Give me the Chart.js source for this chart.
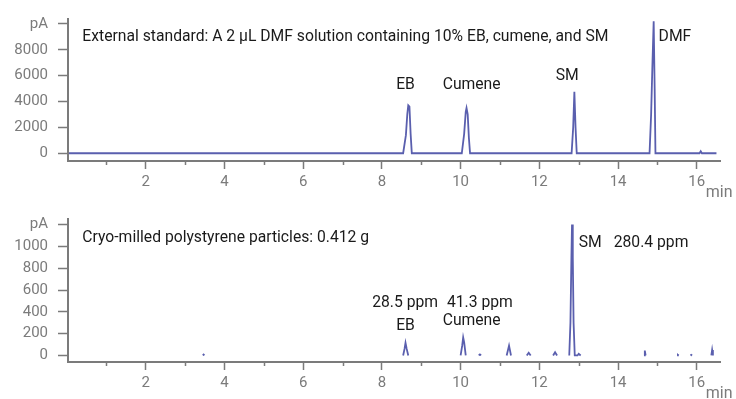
<!DOCTYPE html>
<html>
<head>
<meta charset="utf-8">
<script src="https://cdn.jsdelivr.net/npm/chart.js@4.4.1/dist/chart.umd.min.js"></script>
<style>
  html, body { margin: 0; padding: 0; background: #fff; }
  .panel { position: relative; width: 736px; }
  canvas { display: block; }
</style>
</head>
<body>
<div class="panel" style="height:200px"><canvas id="stdChart"></canvas></div>
<div class="panel" style="height:199px"><canvas id="sampleChart"></canvas></div>
<script>
// retention time (min) and FID signal (pA) for the external standard run
const stdTime = [0.05, 8.54, 8.61, 8.645, 8.67, 8.70, 8.73, 8.76,
  10.03, 10.09, 10.13, 10.15, 10.18, 10.21, 10.24,
  12.82, 12.86, 12.89, 12.92, 12.95,
  14.80, 14.84, 14.87, 14.905, 14.93, 14.95,
  16.07, 16.10, 16.13, 16.50];
const stdSignal = [0, 0, 1400, 3000, 3700, 3600, 1500, 0,
  0, 1500, 3200, 3500, 3000, 1200, 0,
  0, 2000, 4750, 2000, 0,
  0, 3000, 6500, 10200, 5000, 0,
  0, 150, 0, 0];

// polystyrene sample run, only the peaks rise above the baseline
const sampleTime = [3.45, 3.47, 3.49, 3.5,
  8.54, 8.575, 8.60, 8.63, 8.67, 8.7,
  10.00, 10.04, 10.065, 10.09, 10.13, 10.2,
  10.46, 10.49, 10.52, 10.6,
  11.17, 11.23, 11.28, 11.3,
  11.68, 11.73, 11.78, 11.8,
  12.35, 12.40, 12.45, 12.5,
  12.76, 12.79, 12.815, 12.83, 12.85, 12.87, 12.90,
  12.97, 13.00, 13.05, 13.1,
  14.66, 14.68, 14.70, 14.8,
  15.50, 15.52, 15.54, 15.6,
  15.84, 15.86, 15.88, 15.9,
  16.37, 16.39, 16.41];
const sampleSignal = [0, 8, 0, null,
  0, 60, 115, 60, 0, null,
  0, 90, 165, 120, 0, null,
  0, 10, 0, null,
  0, 90, 0, null,
  0, 25, 0, null,
  0, 30, 0, null,
  0, 300, 900, 1200, 900, 300, 0,
  0, 15, 0, null,
  0, 45, 0, null,
  0, 6, 0, null,
  0, 6, 0, null,
  0, 50, 0];

const xTicks = [2, 4, 6, 8, 10, 12, 14, 16];
const xMinorTicks = [1, 3, 5, 7, 9, 11, 13, 15];
const stdYTicks = [0, 2000, 4000, 6000, 8000, 10000];
const sampleYTicks = [0, 200, 400, 600, 800, 1000, 1200];

// text placed at [time, pA]
const stdLabels = [
  { text: 'External standard: A 2 µL DMF solution containing 10% EB, cumene, and SM', x: 0.39, y: 9020, align: 'left' },
  { text: 'EB', x: 8.60, y: 5260, align: 'center' },
  { text: 'Cumene', x: 10.28, y: 5260, align: 'center' },
  { text: 'SM', x: 12.71, y: 5940, align: 'center' },
  { text: 'DMF', x: 15.03, y: 9020, align: 'left' }
];
const sampleLabels = [
  { text: 'Cryo-milled polystyrene particles: 0.412 g', x: 0.39, y: 1072, align: 'left' },
  { text: 'SM', x: 13.0, y: 1034, align: 'left' },
  { text: '280.4 ppm', x: 13.89, y: 1034, align: 'left' },
  { text: '28.5 ppm', x: 8.59, y: 476, align: 'center' },
  { text: '41.3 ppm', x: 10.49, y: 476, align: 'center' },
  { text: 'EB', x: 8.60, y: 268, align: 'center' },
  { text: 'Cumene', x: 10.28, y: 319, align: 'center' }
];

const FONT = 'Roboto, "Noto Sans", sans-serif';
const AXIS = '#7b7b7b';
const TRACE = '#5a5fae';

function extras(labels) {
  return {
    id: 'extras',
    afterDraw(chart) {
      const { ctx, chartArea } = chart;
      const xs = chart.scales.x, ys = chart.scales.y;
      ctx.save();
      // short ticks on odd minutes
      ctx.strokeStyle = AXIS;
      ctx.lineWidth = 1.5;
      xMinorTicks.forEach(v => {
        const px = Math.round(xs.getPixelForValue(v)) + 0.5;
        ctx.beginPath();
        ctx.moveTo(px, chartArea.bottom);
        ctx.lineTo(px, chartArea.bottom + 4);
        ctx.stroke();
      });
      // unit next to the last tick label
      ctx.fillStyle = AXIS;
      ctx.font = '16px ' + FONT;
      ctx.textAlign = 'left';
      ctx.textBaseline = 'middle';
      ctx.fillText('min', xs.getPixelForValue(16) + 9, chartArea.bottom + 32);
      // peak names and header
      ctx.fillStyle = '#1a1a1a';
      ctx.font = '15.7px ' + FONT;
      labels.forEach(l => {
        ctx.textAlign = l.align;
        ctx.fillText(l.text, xs.getPixelForValue(l.x), ys.getPixelForValue(l.y));
      });
      ctx.restore();
    }
  };
}

function makeChart(id, time, signal, yMin, yMax, yTicks, labels, xHeight) {
  return new Chart(document.getElementById(id), {
    type: 'line',
    data: {
      datasets: [{
        data: time.map((t, i) => ({ x: t, y: signal[i] })),
        borderColor: TRACE,
        borderWidth: 1.8,
        pointRadius: 0,
        tension: 0,
        spanGaps: false
      }]
    },
    options: {
      animation: false,
      responsive: true,
      maintainAspectRatio: false,
      layout: { padding: { top: 15, right: 16, left: 0, bottom: 0 } },
      plugins: { legend: { display: false }, tooltip: { enabled: false } },
      scales: {
        x: {
          type: 'linear',
          min: 0.025,
          max: 16.59,
          afterBuildTicks: s => { s.ticks = xTicks.map(v => ({ value: v })); },
          afterFit: s => { s.height = xHeight; },
          border: { color: AXIS, width: 2 },
          grid: { drawOnChartArea: false, tickLength: 8, tickColor: AXIS, tickWidth: 1.5 },
          ticks: { color: AXIS, padding: 4, maxRotation: 0, font: { family: FONT, size: 15 } }
        },
        y: {
          min: yMin,
          max: yMax,
          afterBuildTicks: s => { s.ticks = yTicks.map(v => ({ value: v })); },
          afterFit: s => { s.width = 68; },
          border: { color: AXIS, width: 2 },
          grid: { drawOnChartArea: false, tickLength: 10, tickColor: AXIS, tickWidth: 1.5 },
          ticks: {
            color: AXIS,
            padding: 10,
            font: { family: FONT, size: 15 },
            callback: v => (v === yTicks[yTicks.length - 1] ? 'pA' : String(v))
          }
        }
      }
    },
    plugins: [extras(labels)]
  });
}

makeChart('stdChart', stdTime, stdSignal, -600, 10380, stdYTicks, stdLabels, 39);
makeChart('sampleChart', sampleTime, sampleSignal, -60, 1251, sampleYTicks, sampleLabels, 37);
</script>
</body>
</html>
